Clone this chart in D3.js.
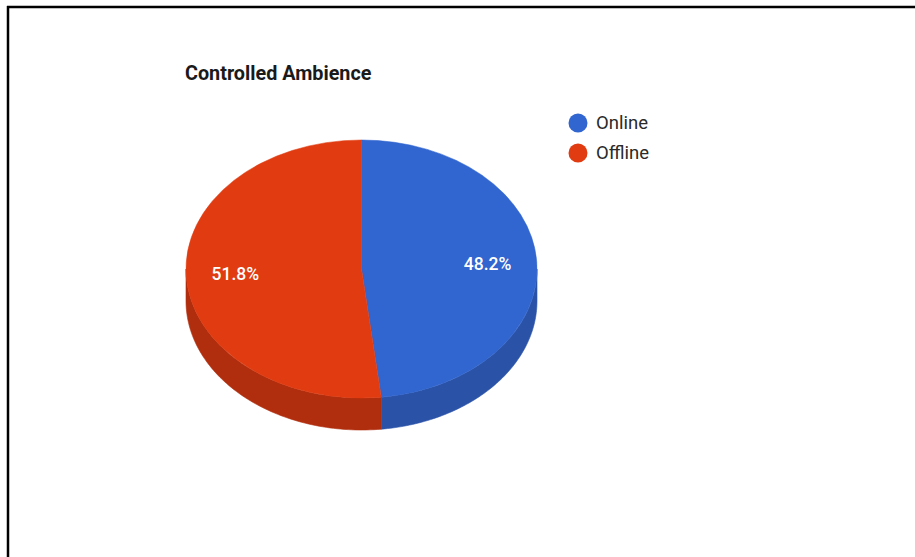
<!DOCTYPE html>
<html>
<head>
<meta charset="utf-8">
<script src="https://cdn.jsdelivr.net/npm/d3@7"></script>
<style>
  html, body { margin: 0; padding: 0; background: #fff; }
  svg { display: block; }
</style>
</head>
<body>
<svg id="chart" width="915" height="557"></svg>
<script>
// ---- data ----
const title = "Controlled Ambience";
const categories = ["Online", "Offline"];
const values = [48.2, 51.8];
const topColors = ["#3165cf", "#e03b11"];
const sideColors = ["#2a53a8", "#b02e0d"];

// ---- layout ----
const W = 915, H = 557;
const cx = 361.5, cy = 269, rx = 175.5, ry = 129, depth = 32;

const svg = d3.select("#chart");

// page frame
svg.append("line").attr("x1", 7).attr("x2", W).attr("y1", 7).attr("y2", 7)
  .attr("stroke", "#000").attr("stroke-width", 2.5);
svg.append("line").attr("x1", 8).attr("x2", 8).attr("y1", 6).attr("y2", H)
  .attr("stroke", "#000").attr("stroke-width", 2.5);

// title
svg.append("text")
  .attr("x", 185).attr("y", 80)
  .attr("font-family", "Roboto, Arial, sans-serif")
  .attr("font-weight", "bold")
  .attr("font-size", 19.8)
  .attr("fill", "#1a1a1a")
  .text(title);

const total = d3.sum(values);
const pie = d3.pie().sort(null).value(d => d);
const arcs = pie(values);

const ex = a => cx + rx * Math.sin(a);
const ey = a => cy - ry * Math.cos(a);

// side walls (visible front half: angles between PI/2 and 3PI/2)
const sideG = svg.append("g");
arcs.forEach((d, i) => {
  const a0 = Math.max(d.startAngle, Math.PI / 2);
  const a1 = Math.min(d.endAngle, 3 * Math.PI / 2);
  if (a0 >= a1) return;
  const n = 80;
  const pts = [];
  for (let k = 0; k <= n; k++) {
    const a = a0 + (a1 - a0) * k / n;
    pts.push([ex(a), ey(a)]);
  }
  for (let k = n; k >= 0; k--) {
    const a = a0 + (a1 - a0) * k / n;
    pts.push([ex(a), ey(a) + depth]);
  }
  sideG.append("path")
    .attr("d", d3.line()(pts) + "Z")
    .attr("fill", sideColors[i])
    .attr("stroke", sideColors[i])
    .attr("stroke-width", 0.6);
});

// top face
const arc = d3.arc().innerRadius(0).outerRadius(rx);
const topG = svg.append("g")
  .attr("transform", `translate(${cx},${cy}) scale(1,${ry / rx})`);
topG.selectAll("path")
  .data(arcs)
  .join("path")
  .attr("d", arc)
  .attr("fill", (d, i) => topColors[i])
  .attr("stroke", (d, i) => topColors[i])
  .attr("stroke-width", 0.6);

// slice labels
const fmt = d3.format(".1%");
const lf = 0.72;
svg.append("g").selectAll("text")
  .data(arcs)
  .join("text")
  .attr("x", d => cx + lf * rx * Math.sin((d.startAngle + d.endAngle) / 2))
  .attr("y", d => cy - lf * ry * Math.cos((d.startAngle + d.endAngle) / 2) + 6)
  .attr("text-anchor", "middle")
  .attr("font-family", "Roboto, Arial, sans-serif")
  .attr("font-size", 17.5)
  .attr("font-weight", 500)
  .attr("fill", "#fff")
  .text(d => fmt(d.value / total));

// legend
const legend = svg.append("g");
categories.forEach((c, i) => {
  const y = 123 + i * 30;
  legend.append("circle").attr("cx", 578).attr("cy", y).attr("r", 9.5)
    .attr("fill", topColors[i]);
  legend.append("text").attr("x", 596).attr("y", y + 6)
    .attr("font-family", "Roboto, Arial, sans-serif")
    .attr("font-size", 18.5)
    .attr("fill", "#2a2a2a")
    .text(c);
});
</script>
</body>
</html>
